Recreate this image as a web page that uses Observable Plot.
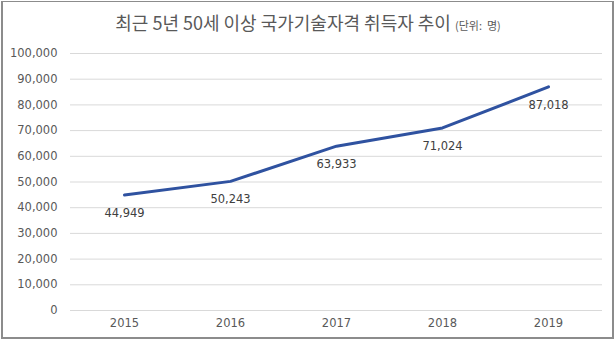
<!DOCTYPE html>
<html>
<head>
<meta charset="utf-8">
<script src="https://cdn.jsdelivr.net/npm/d3@7"></script>
<script src="https://cdn.jsdelivr.net/npm/@observablehq/plot@0.6"></script>
<style>
  html, body { margin: 0; padding: 0; background: #fff; }
  #wrap { position: relative; width: 616px; height: 344px; overflow: hidden; font-family: "Noto Sans CJK KR", "Noto Sans", sans-serif; }
  #frame { position: absolute; left: 1px; top: 1px; width: 609px; height: 335px; border: 2px solid #8c8c8c; border-top-width: 1px; pointer-events: none; }
  #title { position: absolute; left: 0; top: 8px; width: 616px; text-align: center; color: #595959; font-size: 18px; line-height: 28px; white-space: nowrap; }
  #title .unit { font-size: 11px; }
  #chart { position: absolute; left: 0; top: 40px; }
</style>
</head>
<body>
<div id="wrap">
  <div id="title">최근 5년 50세 이상 국가기술자격 취득자 추이 <span class="unit">(단위:&nbsp; 명)</span></div>
  <div id="chart"></div>
  <div id="frame"></div>
</div>
<script>
// Number of people aged 50+ acquiring national technical qualifications, by year
const years = ["2015", "2016", "2017", "2018", "2019"];
const holders = [44949, 50243, 63933, 71024, 87018];
const yTicks = [0, 10000, 20000, 30000, 40000, 50000, 60000, 70000, 80000, 90000, 100000];

const rows = years.map((year, i) => ({year, value: holders[i]}));
const fmt = d3.format(",");

const chart = Plot.plot({
  width: 616,
  height: 304,
  marginTop: 13,
  marginBottom: 34,
  marginLeft: 70,
  marginRight: 14,
  style: {fontFamily: "'DejaVu Sans', sans-serif", fontSize: "11.5px", color: "#595959", background: "transparent"},
  x: {type: "point", domain: years, padding: 0.5, label: null, tickSize: 0, tickPadding: 8},
  y: {domain: [0, 100000], ticks: yTicks, tickFormat: fmt, label: null, tickSize: 0, tickPadding: 13},
  marks: [
    Plot.ruleY(yTicks, {stroke: "#d9d9d9", strokeWidth: 1}),
    Plot.line(rows, {x: "year", y: "value", stroke: "#2f52a0", strokeWidth: 3, strokeLinejoin: "round", strokeLinecap: "round"}),
    Plot.text(rows, {x: "year", y: "value", text: d => fmt(d.value), dy: 18, fill: "#404040", fontSize: 11.5})
  ]
});
document.getElementById("chart").appendChild(chart);
</script>
</body>
</html>
